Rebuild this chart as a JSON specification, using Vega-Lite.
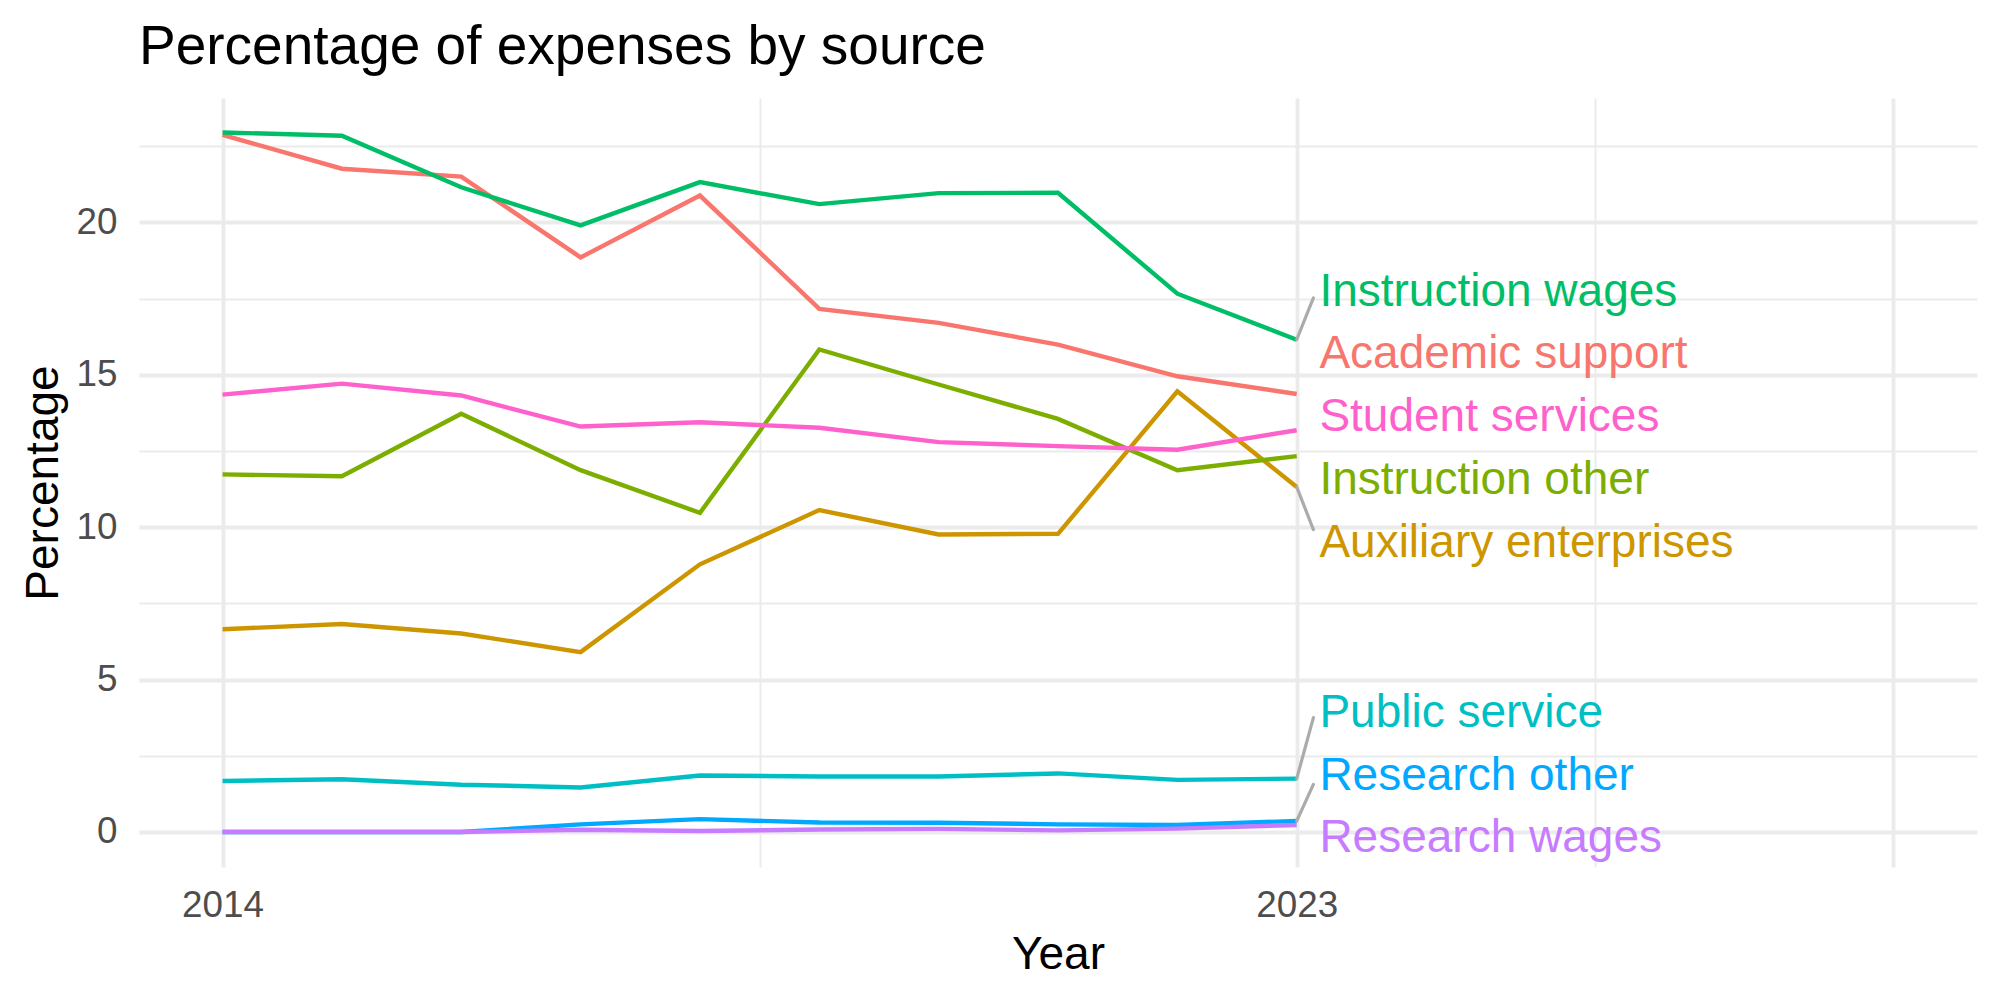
{
  "$schema": "https://vega.github.io/schema/vega-lite/v6.json",
  "width": 1838,
  "height": 769,
  "autosize": {"type": "none"},
  "padding": {"left": 139, "top": 98, "right": 23, "bottom": 133},
  "background": "white",
  "title": {"text": "Percentage of expenses by source", "anchor": "start", "frame": "group", "fontSize": 55, "font": "Liberation Sans", "fontWeight": "normal", "color": "black", "baseline": "alphabetic", "offset": 36, "dy": 57},
  "config": {"view": {"stroke": null}, "font": "Liberation Sans"},
  "datasets": {
    "series": [
      {"source": "Academic support", "year": 2014, "pct": 22.87},
      {"source": "Academic support", "year": 2015, "pct": 21.76},
      {"source": "Academic support", "year": 2016, "pct": 21.5},
      {"source": "Academic support", "year": 2017, "pct": 18.85},
      {"source": "Academic support", "year": 2018, "pct": 20.88},
      {"source": "Academic support", "year": 2019, "pct": 17.16},
      {"source": "Academic support", "year": 2020, "pct": 16.7},
      {"source": "Academic support", "year": 2021, "pct": 15.99},
      {"source": "Academic support", "year": 2022, "pct": 14.95},
      {"source": "Academic support", "year": 2023, "pct": 14.37},
      {"source": "Auxiliary enterprises", "year": 2014, "pct": 6.65},
      {"source": "Auxiliary enterprises", "year": 2015, "pct": 6.82},
      {"source": "Auxiliary enterprises", "year": 2016, "pct": 6.51},
      {"source": "Auxiliary enterprises", "year": 2017, "pct": 5.9},
      {"source": "Auxiliary enterprises", "year": 2018, "pct": 8.78},
      {"source": "Auxiliary enterprises", "year": 2019, "pct": 10.56},
      {"source": "Auxiliary enterprises", "year": 2020, "pct": 9.76},
      {"source": "Auxiliary enterprises", "year": 2021, "pct": 9.78},
      {"source": "Auxiliary enterprises", "year": 2022, "pct": 14.46},
      {"source": "Auxiliary enterprises", "year": 2023, "pct": 11.32},
      {"source": "Instruction other", "year": 2014, "pct": 11.73},
      {"source": "Instruction other", "year": 2015, "pct": 11.67},
      {"source": "Instruction other", "year": 2016, "pct": 13.72},
      {"source": "Instruction other", "year": 2017, "pct": 11.87},
      {"source": "Instruction other", "year": 2018, "pct": 10.47},
      {"source": "Instruction other", "year": 2019, "pct": 15.83},
      {"source": "Instruction other", "year": 2020, "pct": 14.68},
      {"source": "Instruction other", "year": 2021, "pct": 13.55},
      {"source": "Instruction other", "year": 2022, "pct": 11.87},
      {"source": "Instruction other", "year": 2023, "pct": 12.33},
      {"source": "Instruction wages", "year": 2014, "pct": 22.95},
      {"source": "Instruction wages", "year": 2015, "pct": 22.84},
      {"source": "Instruction wages", "year": 2016, "pct": 21.15},
      {"source": "Instruction wages", "year": 2017, "pct": 19.9},
      {"source": "Instruction wages", "year": 2018, "pct": 21.32},
      {"source": "Instruction wages", "year": 2019, "pct": 20.6},
      {"source": "Instruction wages", "year": 2020, "pct": 20.96},
      {"source": "Instruction wages", "year": 2021, "pct": 20.97},
      {"source": "Instruction wages", "year": 2022, "pct": 17.66},
      {"source": "Instruction wages", "year": 2023, "pct": 16.15},
      {"source": "Public service", "year": 2014, "pct": 1.67},
      {"source": "Public service", "year": 2015, "pct": 1.73},
      {"source": "Public service", "year": 2016, "pct": 1.55},
      {"source": "Public service", "year": 2017, "pct": 1.46},
      {"source": "Public service", "year": 2018, "pct": 1.85},
      {"source": "Public service", "year": 2019, "pct": 1.82},
      {"source": "Public service", "year": 2020, "pct": 1.82},
      {"source": "Public service", "year": 2021, "pct": 1.92},
      {"source": "Public service", "year": 2022, "pct": 1.71},
      {"source": "Public service", "year": 2023, "pct": 1.75},
      {"source": "Research other", "year": 2014, "pct": 0},
      {"source": "Research other", "year": 2015, "pct": 0},
      {"source": "Research other", "year": 2016, "pct": 0},
      {"source": "Research other", "year": 2017, "pct": 0.25},
      {"source": "Research other", "year": 2018, "pct": 0.42},
      {"source": "Research other", "year": 2019, "pct": 0.31},
      {"source": "Research other", "year": 2020, "pct": 0.3},
      {"source": "Research other", "year": 2021, "pct": 0.25},
      {"source": "Research other", "year": 2022, "pct": 0.23},
      {"source": "Research other", "year": 2023, "pct": 0.36},
      {"source": "Research wages", "year": 2014, "pct": 0},
      {"source": "Research wages", "year": 2015, "pct": 0},
      {"source": "Research wages", "year": 2016, "pct": 0},
      {"source": "Research wages", "year": 2017, "pct": 0.07},
      {"source": "Research wages", "year": 2018, "pct": 0.03},
      {"source": "Research wages", "year": 2019, "pct": 0.08},
      {"source": "Research wages", "year": 2020, "pct": 0.1},
      {"source": "Research wages", "year": 2021, "pct": 0.05},
      {"source": "Research wages", "year": 2022, "pct": 0.11},
      {"source": "Research wages", "year": 2023, "pct": 0.23},
      {"source": "Student services", "year": 2014, "pct": 14.35},
      {"source": "Student services", "year": 2015, "pct": 14.71},
      {"source": "Student services", "year": 2016, "pct": 14.32},
      {"source": "Student services", "year": 2017, "pct": 13.3},
      {"source": "Student services", "year": 2018, "pct": 13.44},
      {"source": "Student services", "year": 2019, "pct": 13.26},
      {"source": "Student services", "year": 2020, "pct": 12.79},
      {"source": "Student services", "year": 2021, "pct": 12.66},
      {"source": "Student services", "year": 2022, "pct": 12.54},
      {"source": "Student services", "year": 2023, "pct": 13.18}
    ],
    "labels": [
      {"source": "Instruction wages", "year": 2023, "pct": 16.15, "label_y": 17.8, "seg_y": 17.52},
      {"source": "Academic support", "year": 2023, "pct": 14.37, "label_y": 15.75, "seg_y": null},
      {"source": "Student services", "year": 2023, "pct": 13.18, "label_y": 13.71, "seg_y": null},
      {"source": "Instruction other", "year": 2023, "pct": 12.33, "label_y": 11.64, "seg_y": null},
      {"source": "Auxiliary enterprises", "year": 2023, "pct": 11.32, "label_y": 9.57, "seg_y": 9.92},
      {"source": "Public service", "year": 2023, "pct": 1.75, "label_y": 3.97, "seg_y": 3.75},
      {"source": "Research other", "year": 2023, "pct": 0.36, "label_y": 1.93, "seg_y": 1.56},
      {"source": "Research wages", "year": 2023, "pct": 0.23, "label_y": -0.11, "seg_y": null}
    ]
  },
  "layer": [
    {
      "data": {"name": "series"},
      "mark": {"type": "line", "strokeWidth": 4.4},
      "encoding": {
        "x": {
          "field": "year", "type": "quantitative",
          "scale": {"domain": [2013.3, 2028.7], "nice": false, "zero": false},
          "axis": {
            "values": [2014, 2018.5, 2023, 2025.5, 2028],
            "labelExpr": "datum.value == 2014 || datum.value == 2023 ? format(datum.value, 'd') : ''",
            "title": "Year", "ticks": false, "domain": false, "grid": true,
            "gridColor": "#EBEBEB",
            "gridWidth": {"condition": {"test": "datum.value == 2018.5 || datum.value == 2025.5", "value": 1.9}, "value": 3.8},
            "labelFontSize": 36.8, "labelColor": "#4D4D4D", "labelBaseline": "alphabetic", "labelPadding": 49,
            "labelFlush": false, "labelOverlap": false,
            "titleFontSize": 46, "titleColor": "black", "titleFontWeight": "normal",
            "titleBaseline": "alphabetic", "titleAlign": "center", "titleX": 919, "titleY": 101
          }
        },
        "y": {
          "field": "pct", "type": "quantitative",
          "scale": {"domain": [-1.15, 24.08], "nice": false, "zero": false},
          "axis": {
            "values": [0, 2.5, 5, 7.5, 10, 12.5, 15, 17.5, 20, 22.5],
            "labelExpr": "datum.value % 5 == 0 ? datum.label : ''",
            "title": "Percentage", "ticks": false, "domain": false, "grid": true,
            "gridColor": "#EBEBEB",
            "gridWidth": {"condition": {"test": "datum.value % 5 != 0", "value": 1.9}, "value": 3.8},
            "labelFontSize": 36.8, "labelColor": "#4D4D4D", "labelPadding": 22, "labelBaseline": "middle",
            "labelOverlap": false,
            "titleFontSize": 46, "titleColor": "black", "titleFontWeight": "normal",
            "titleAngle": 270, "titleBaseline": "alphabetic", "titleAlign": "center", "titleX": -82, "titleY": 384.5
          }
        },
        "color": {
          "field": "source", "type": "nominal", "legend": null,
          "scale": {
            "domain": ["Academic support", "Auxiliary enterprises", "Instruction other", "Instruction wages", "Public service", "Research other", "Research wages", "Student services"],
            "range": ["#F8766D", "#CD9600", "#7CAE00", "#00BE67", "#00BFC4", "#00A9FF", "#C77CFF", "#FF61CC"]
          }
        }
      }
    },
    {
      "data": {"name": "labels"},
      "transform": [{"filter": "datum.seg_y != null"}],
      "mark": {"type": "rule", "color": "#ABABAB", "strokeWidth": 3.2, "strokeCap": "round"},
      "encoding": {
        "x": {"field": "year", "type": "quantitative"},
        "y": {"field": "pct", "type": "quantitative"},
        "x2": {"datum": 2023.14},
        "y2": {"field": "seg_y"}
      }
    },
    {
      "data": {"name": "labels"},
      "mark": {"type": "text", "align": "left", "baseline": "alphabetic", "dy": 16.5, "fontSize": 46, "font": "Liberation Sans"},
      "encoding": {
        "x": {"datum": 2023.19, "type": "quantitative"},
        "y": {"field": "label_y", "type": "quantitative"},
        "text": {"field": "source"},
        "color": {"field": "source", "type": "nominal", "legend": null}
      }
    }
  ]
}
